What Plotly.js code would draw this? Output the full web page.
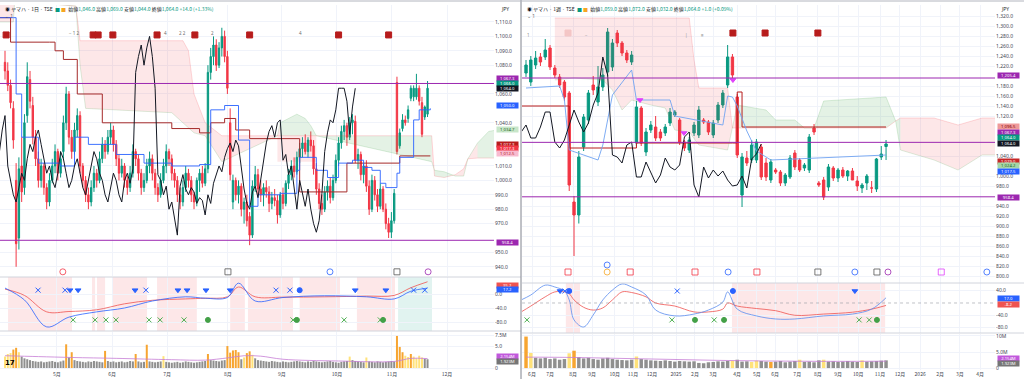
<!DOCTYPE html>
<html><head><meta charset="utf-8">
<script src="https://cdn.plot.ly/plotly-3.0.1.min.js"></script>
<style>html,body{margin:0;padding:0;background:#fff;overflow:hidden}#chart{width:1024px;height:379px}</style>
</head><body><div id="chart"></div>
<script>
// ===================== LEFT : daily (Apr–Nov 2025) =====================
const L_open  = [1082,1076,1066,1050,1000,960,1010,995,1045,1070,1052,1030,1015,1000,1010,995,985,1000,1010,1020,1005,1020,1040,1060,1030,1020,1035,1045,1010,1000,990,985,995,1005,1000,1015,1025,1020,1030,1035,1025,1015,1005,1010,1000,995,1005,1020,1015,1005,995,1000,1010,1015,1005,995,990,1000,1010,1020,1015,1005,1000,990,985,995,1005,1000,990,985,1000,1005,998,1008,1075,1086,1094,1080,1092,1100,1086,1040,985,1000,990,996,980,985,975,962,996,1004,994,990,995,992,984,988,986,976,990,984,998,1004,1010,1006,1016,1022,1026,1020,1028,1024,1008,994,984,980,992,996,988,1000,1014,1026,1034,1038,1030,1040,1041,1014,1018,1004,1010,996,980,1000,990,982,994,980,970,964,972,1068,1024,1036,1042,1043,1057,1058,1058,1064,1054,1044,1046];
const L_high  = [1090,1082,1070,1055,1012,1016,1030,1046,1082,1076,1058,1035,1020,1015,1012,998,1005,1015,1025,1022,1020,1045,1065,1062,1035,1040,1050,1048,1012,1003,995,1000,1010,1008,1020,1030,1028,1035,1040,1038,1028,1018,1015,1012,1003,1010,1025,1022,1018,1008,1005,1015,1020,1018,1008,998,1005,1015,1025,1022,1018,1008,1003,995,1000,1010,1008,1003,992,1002,1008,1010,1012,1080,1092,1100,1098,1096,1106,1104,1090,1050,1004,1002,1000,998,988,990,978,1000,1010,1008,1000,998,1000,996,992,994,990,992,995,1000,1008,1014,1016,1020,1026,1030,1032,1030,1034,1028,1012,998,990,996,1000,1002,1004,1018,1030,1038,1042,1040,1044,1046,1045,1022,1020,1012,1014,1000,1004,1003,994,998,996,984,974,978,994,1072,1036,1046,1045,1052,1066,1066,1074,1066,1058,1052,1069];
const L_low   = [1070,1062,1050,1022,940,952,985,990,1040,1050,1025,1010,995,995,990,980,982,998,1005,1000,1002,1015,1035,1025,1015,1018,1030,1005,995,985,980,982,992,995,998,1012,1015,1018,1025,1020,1010,1000,1002,995,990,992,1002,1010,1000,990,992,998,1005,1000,990,985,988,998,1005,1010,1000,995,985,980,982,992,995,985,980,982,992,995,996,1005,1070,1080,1076,1078,1086,1082,1060,1000,980,986,984,975,970,968,955,960,992,990,985,982,988,978,980,982,970,974,980,982,994,1000,1002,1004,1012,1016,1018,1016,1020,1004,990,980,976,978,986,984,986,998,1010,1022,1028,1024,1028,1032,1012,1008,1000,998,992,976,978,986,978,980,978,966,960,960,970,1018,1022,1034,1038,1040,1055,1055,1056,1052,1030,1042,1044];
const L_close = [1076,1066,1054,1028,956,1008,992,1040,1072,1055,1030,1015,1000,1010,995,985,1000,1010,1020,1005,1015,1040,1060,1030,1020,1035,1045,1010,1000,990,985,995,1005,1000,1015,1025,1020,1030,1035,1025,1015,1005,1010,1000,995,1005,1020,1015,1005,995,1000,1010,1015,1005,995,990,1000,1010,1020,1015,1005,1000,990,985,995,1005,1000,990,985,1000,1005,998,1008,1075,1086,1094,1080,1092,1100,1086,1064,1004,1000,990,996,980,985,972,962,996,1004,994,990,995,992,984,988,986,976,990,984,998,1004,1010,1006,1016,1022,1026,1020,1028,1024,1008,994,984,980,992,996,988,1000,1014,1026,1034,1038,1030,1040,1042,1014,1018,1004,1010,996,980,1000,990,982,994,980,970,964,972,991,1020,1033,1042,1040,1049,1064,1064,1064,1055,1032,1051,1064];
const L_vol   = [2.6,3.2,3.4,4.2,4.6,3.6,2.6,2.2,2.0,1.8,1.6,1.5,1.4,1.5,1.3,1.4,1.5,1.6,1.4,1.3,1.5,1.7,5.4,2.4,3.6,1.8,1.6,1.5,1.4,1.3,1.5,1.4,1.6,1.5,1.4,1.3,3.9,1.6,1.4,1.5,1.3,1.4,1.5,1.3,1.4,1.6,1.5,3.2,1.5,1.3,1.4,5.3,1.5,1.4,1.3,1.4,1.5,2.7,1.4,1.3,1.2,1.3,1.4,1.2,1.3,1.5,1.4,1.3,1.2,1.3,1.4,1.5,1.6,3.2,1.8,1.7,1.6,1.5,1.7,1.8,5.0,3.5,4.0,4.1,3.6,2.0,2.4,3.4,3.8,3.0,2.2,1.8,1.7,1.6,1.5,1.4,1.6,1.5,1.4,1.3,1.5,1.4,1.3,1.4,1.5,1.6,1.5,1.4,1.3,1.5,1.4,1.6,1.5,1.4,1.3,1.4,1.5,1.6,1.4,1.3,1.2,1.4,1.5,1.6,2.6,1.8,1.6,1.5,1.4,1.3,2.4,1.5,1.4,1.3,1.5,1.4,1.3,1.4,1.5,1.6,1.5,7.3,4.8,3.6,2.8,2.5,3.2,2.6,2.2,2.8,2.4,2.1,2.0];
const L_volHi = [1,1,1,2,2,1,0,0,0,0,0,0,0,0,0,0,0,0,0,0,0,0,2,0,2,0,0,0,0,0,0,0,0,0,0,0,2,0,0,0,0,0,0,0,0,0,0,2,0,0,0,2,0,0,0,0,0,1,0,0,0,0,0,0,0,0,0,0,0,0,0,0,0,2,0,0,0,0,0,0,2,2,2,2,2,0,1,2,2,1,0,0,0,0,0,0,0,0,0,0,0,0,0,0,0,0,0,0,0,0,0,0,0,0,0,0,0,0,0,0,0,0,0,0,1,0,0,0,0,0,1,0,0,0,0,0,0,0,0,0,0,2,2,2,1,1,2,1,1,1,1,0,0];
const L_volMA_x = [0,12,24,40,60,72,80,86,92,100,120,140,146,152];
const L_volMA_y = [2.8,2.6,2.4,2.2,1.9,1.8,2.3,2.8,2.7,2.0,1.6,1.5,2.2,2.15];
const L_monthPos = [18.7,38.5,58.3,80.2,99.6,119.4,139.2,159];
const L_monthLbl = ['5月','6月','7月','8月','9月','10月','11月','12月'];
const L_priceTicks = [940,950,970,980,990,1000,1010,1040,1060,1080,1090,1100,1110];
// ichimoku lines (bar index, price)
const L_tenkanX = [-2,3,4,6,12,20,25,30,40,50,60,70,74,79,84,88,91,99,105,106,112,116,120,125,129,132,135,137,141,142,147,149,153];
const L_tenkanY = [1113,1113,1060,1030,1012,1010,1030,1025,1018,1012,1010,1011,1049,1052,1028,982,990,991,1007,1016,1007,1002,1012,1014,1009,1007,998,995,1005,1016,1042,1049,1050];
const L_kijunX = [-2,2,16,18,21,26,35,60,70,74,79,83,88,106,123,142,153];
const L_kijunY = [1113,1096,1096,1090,1084,1060,1040,1036,1033,1040,1043,1035,1029,992,1012,1017,1017];
const L_spanX = [-2,3,3.5,25.5,27,29,60,64,66,68,72,78,98,99,102,105,108,110,112,153.5,154.5,158,162,165,166.5,170,174,176];
const L_spanA = [1110,1110,1125,1121,1080,1050,1047,1040,1036,1033,1031,1013,1031,1040,1043,1046,1043,1038,1031,1013,1007,1006,1003,1003,1015,1026,1034,1034.7];
const L_spanB = [1125,1125,1125,1121,1097,1097,1097,1097,1090,1060,1040,1031,1031,1031,1031,1031,1031,1031,1031,1031,1003,1002,1004,1008,1015,1015.5,1015.5,1015.5];
const L_box = [98,112,1013,1031];
const L_levels = [1067.3,958.4];
const L_oscX = [0,7,15,23,33,43,53,65,72,80,84,90,100,115,130,140,146,152];
const L_oscBlue = [17,-17,-94,-66,-51,-40,-20,-8,-12,-10,31,-20,-10,-5,-8,-14,8,17];
const L_oscRed  = [14,-4,-51,-50,-45,-28,-18,-14,-12,-8,20,-8,-9,-8,-6,-4,18,35];
const L_bandPink = [[1.1,24.1],[31.3,32.4],[33.1,36],[38.8,51.1],[54.7,69],[81,86.3],[87.4,103.6],[106,120.5],[126.6,140.3]];
const L_bandGreen = [[141.4,153.6]];
const L_blueX = [11.9,21.6,50.7,97.5,102.5,147,151];
const L_blueTri = [23.4,26.3,46.8,62.2,65.5,72.3,81,126,137];
const L_blueDot = [106];
const L_greenX = [24.5,32.4,36.3,39.9,51.8,55.8,64.4,103.6,122,135];
const L_greenDot = [73,105,136];
const L_evtX = [0.4,31.7,33.5,38.8,54.7,68.3,88,120,138];
const L_markX = [20.8,80.2,116.9,141,152.2];
const L_markSym = ['circle-open','square-open','circle-open','square-open','circle-open'];
const L_markCol = ['#f23645','#555','#2962ff','#555','#9c27b0'];

// ===================== RIGHT : weekly (Jun 2024 – Nov 2025) =====================
const R_open  = [1206,1188,1222,1238,1238,1256,1216,1198,1188,1166,948,922,1058,1112,1182,1148,1178,1208,1218,1286,1266,1246,1228,1066,1136,1048,1092,1098,1088,1086,1106,1122,1112,1068,1052,1086,1082,1112,1108,1082,1112,1142,1182,1238,1158,962,1036,1032,1032,1058,1026,992,1012,1008,986,998,1046,1032,1016,1012,1096,986,992,978,1016,996,1012,1000,1010,990,976,986,976,974,1038,1059];
const R_high  = [1232,1240,1250,1246,1274,1262,1222,1204,1192,1170,960,1050,1124,1172,1200,1220,1216,1296,1274,1292,1270,1252,1250,1150,1140,1096,1110,1120,1094,1104,1136,1132,1116,1072,1078,1108,1140,1116,1112,1112,1148,1172,1262,1244,1164,1046,1050,1072,1074,1064,1036,1034,1016,1012,1006,1042,1052,1036,1026,1084,1104,990,998,1024,1020,1016,1018,1012,1016,1000,986,1004,990,1036,1060,1072];
const R_low   = [1198,1180,1214,1220,1232,1212,1196,1176,1150,970,840,905,1050,1104,1162,1140,1170,1200,1210,1258,1240,1226,1222,1060,1060,1040,1086,1070,1070,1080,1100,1118,1062,1050,1046,1080,1076,1104,1082,1076,1106,1136,1176,1196,1036,938,1020,1026,1026,992,990,986,1004,980,980,994,1012,1008,1010,1006,1082,978,952,970,990,988,996,990,992,970,966,972,966,968,1032,1032];
const R_close = [1222,1232,1236,1228,1252,1218,1202,1182,1158,982,922,1038,1118,1166,1172,1178,1202,1288,1266,1266,1246,1232,1242,1138,1066,1088,1102,1076,1076,1098,1128,1128,1068,1056,1072,1102,1132,1108,1088,1106,1142,1166,1238,1202,1042,1038,1026,1062,1068,998,998,1028,1008,986,1002,1036,1018,1012,1022,1078,1088,982,958,1018,996,1012,1000,1010,992,980,982,1000,976,1034,1044,1064];
const R_vol   = [9.8,4.7,3.2,3.0,3.2,2.8,3.0,2.6,2.8,4.6,5.4,3.4,3.0,3.2,2.8,2.6,3.0,3.2,2.8,2.6,2.5,2.4,2.6,3.6,2.8,2.6,2.4,2.3,2.2,2.4,2.2,2.0,2.2,2.1,2.0,2.1,1.6,1.5,1.8,1.9,2.1,2.0,2.2,2.3,2.6,2.0,2.1,1.9,2.3,2.2,2.0,1.9,2.0,2.2,1.8,2.0,2.2,2.6,1.9,2.0,1.8,2.4,2.6,2.0,2.1,1.9,2.0,2.2,2.0,1.9,2.4,2.0,2.1,2.2,2.3,2.4];
const R_volHi = [2,1,0,0,0,0,0,0,0,1,2,0,0,0,0,0,0,0,0,0,0,0,0,1,0,0,0,0,0,0,0,0,0,0,0,0,0,0,0,0,0,0,0,1,0,0,0,1,1,0,0,2,0,0,0,0,0,1,0,0,0,0,1,0,0,0,0,0,0,0,1,0,0,0,0,0];
const R_volMA_x = [0,10,20,30,40,50,60,70,75];
const R_volMA_y = [3.4,3.3,3.0,2.7,2.4,2.2,2.1,2.1,2.15];
const R_monthPos = [1.25,5,9.8,13.75,18.5,22.3,26.25,31.25,35.2,39,44,48.1,51.9,56.5,60.8,65,69.2,73.75,77.9,82.1,86.25,90.4,94.6];
const R_monthLbl = ['6月','7月','8月','9月','10月','11月','12月','2025','2月','3月','4月','5月','6月','7月','8月','9月','10月','11月','12月','2026','2月','3月','4月'];
const R_priceTicks = [800,820,840,860,880,900,920,940,980,1000,1040,1120,1140,1160,1180,1220,1240,1260,1280,1300,1320];
const R_tenkanX = [0,7,8,9,15,16,18,22,23,30,31,41,42,43,44,46,48,51,75];
const R_tenkanY = [1176,1180,1152,1052,1032,1062,1162,1212,1152,1152,1120,1102,1160,1158,1140,1090,1050,1032,1042];
const R_kijunX = [-1,8,9,23,43,44,45,60,75];
const R_kijunY = [1140,1140,1056,1066,1066,1168,1098,1098,1098];
const R_spanX = [6,10,16,18,20,22,26,29,31,34,35,36,42,43,44,50,52,56,58,60,62,75,77,78,85,90,95,98];
const R_spanA = [1192,1196,1192,1172,1132,1152,1142,1136,1092,1088,1075,1062,1052,1096,1142,1132,1112,1112,1096,1096,1150,1158,1110,1052,1032,1012,1042,1042];
const R_spanB = [1316,1316,1316,1316,1316,1316,1316,1316,1316,1316,1232,1176,1176,1096,1096,1096,1096,1096,1096,1096,1096,1096,1110,1116,1116,1102,1116,1116];
const R_levels = [1196,1067.3,958.4];
const R_oscX = [-1,1,4,6,8,9,10,12,14,16,18,20,22,25,27,31,35,38,41,42,44,48,52,56,62,68,72,75];
const R_oscBlue = [10,26,58,52,39,10,-55,-78,-39,10,42,62,52,26,-23,-42,-36,-23,3,36,-20,-42,-52,-52,-42,-36,-20,17];
const R_oscRed  = [-29,-10,20,36,36,30,10,-14,-23,-16,10,36,34,20,0,-10,-29,-29,-20,0,-10,-18,-25,-40,-36,-30,-20,-8];
const R_bandPink = [[8.3,11.25],[42.9,74.8]];
const R_blueX = [8.1,31.5];
const R_blueTri = [7.1,68.5];
const R_blueDot = [9,43.1];
const R_greenX = [0.2,30.4,39.2,69.4,71.5];
const R_greenDot = [35.2,41.25,73.1];
const R_triX = [23.75,32.9,43.1];
const R_triY = [1152,1086,1192];
const R_evtX = [43.1,49.8,60.8];
const R_evtFaintX = [8.75];
const R_markX = [8.75,21.7,35.2,48.1,60.8,16.9,16.9,42.1,68.5,73.1,75.4,86.5,96];
const R_markSym = ['square-open','square-open','square-open','square-open','square-open','circle-open','circle-open','circle-open','circle-open','square-open','circle-open','square-open','circle-open'];
const R_markCol = ['#f23645','#f23645','#f23645','#f23645','#555','#2962ff','#f5a623','#2962ff','#2962ff','#555','#9c27b0','#e040fb','#2962ff'];
const R_markY = [808,808,808,808,808,822,808,808,808,808,808,808,808];

// ---------------- drawing ----------------
const UP='#089981', DN='#f23645', GRID='#f0f3fa', TXT='#131722';
const data=[];
const H=379;
const py=p=>1-p/H;
function candles(o,h,l,c,xa,ya){
  data.push({type:'candlestick',x:o.map((_,i)=>i),open:o,high:h,low:l,close:c,xaxis:xa,yaxis:ya,
    increasing:{line:{color:UP,width:1},fillcolor:UP},decreasing:{line:{color:DN,width:1},fillcolor:DN},
    whiskerwidth:0,hoverinfo:'skip',showlegend:false});
}
function cloud(X,A,B,xa,ya){
  let seg=null;const segs=[];
  for(let i=0;i<X.length;i++){
    const up=A[i]>B[i]||(A[i]===B[i]&&seg&&seg.up);
    if(!seg||seg.up!==up){ if(seg){seg.x.push(X[i]);seg.a.push(A[i]);seg.b.push(B[i]);} seg={up:up,x:[],a:[],b:[]};segs.push(seg);}
    seg.x.push(X[i]);seg.a.push(A[i]);seg.b.push(B[i]);
  }
  segs.forEach(s=>{
    const col=s.up?'rgba(67,160,71,0.14)':'rgba(242,54,69,0.12)';
    data.push({type:'scatter',mode:'lines',x:s.x,y:s.b,xaxis:xa,yaxis:ya,line:{color:'rgba(242,54,69,0.3)',width:0.6},hoverinfo:'skip',showlegend:false});
    data.push({type:'scatter',mode:'lines',x:s.x,y:s.a,xaxis:xa,yaxis:ya,fill:'tonexty',fillcolor:col,line:{color:'rgba(67,160,71,0.3)',width:0.6},hoverinfo:'skip',showlegend:false});
  });
}
function line(x,y,xa,ya,color,w,shape){
  data.push({type:'scatter',mode:'lines',x:x,y:y,xaxis:xa,yaxis:ya,line:{color:color,width:w,shape:shape||'linear'},hoverinfo:'skip',showlegend:false});
}
function lagging(c,xa,ya){ line(c.map((_,i)=>i-26),c,xa,ya,'#131722',1); }
function volume(v,hi,xa,ya){
  const cols=hi.map(h=>h===2?'#f7a531':(h===1?'#ffe27a':'#8f8f8f'));
  data.push({type:'bar',x:v.map((_,i)=>i),y:v,xaxis:xa,yaxis:ya,marker:{color:cols,line:{width:0}},width:0.72,hoverinfo:'skip',showlegend:false});
}
function marks(x,yv,xa,ya,sym,col,size,lw){
  data.push({type:'scatter',mode:'markers',x:x,y:x.map((_,i)=>Array.isArray(yv)?yv[i]:yv),xaxis:xa,yaxis:ya,
    marker:{symbol:sym,size:size,color:col,line:{color:col,width:lw||1}},hoverinfo:'skip',showlegend:false});
}

// LEFT
cloud(L_spanX,L_spanA,L_spanB,'x','y');
line(L_kijunX,L_kijunY,'x','y','#a52a2a',1,'hv');
line(L_tenkanX,L_tenkanY,'x','y','#2962ff',0.9,'hv');
lagging(L_close,'x','y');
candles(L_open,L_high,L_low,L_close,'x','y');
volume(L_vol,L_volHi,'x','y3');
line(L_volMA_x,L_volMA_y,'x','y3','#c77dd6',0.8,'spline');
line(L_oscX,L_oscRed,'x','y2','#ef5350',0.8,'spline');
line(L_oscX,L_oscBlue,'x','y2','#2962ff',0.8,'spline');
marks(L_blueX,11,'x','y2','x-thin-open','#2962ff',5,1);
marks(L_blueTri,11,'x','y2','triangle-down','#2962ff',5,0);
marks(L_blueDot,11,'x','y2','circle','#2962ff',5,0);
marks(L_greenX,-74,'x','y2','x-thin-open','#4caf50',5,1);
marks(L_greenDot,-74,'x','y2','circle','#43a047',5,0);
marks(L_evtX,1101,'x','y','square','#b71c1c',6,0);
data.push({type:'scatter',mode:'markers',x:L_markX,y:L_markX.map(()=>936.5),xaxis:'x',yaxis:'y',marker:{symbol:L_markSym,size:6,color:L_markCol,line:{color:L_markCol,width:0.8}},hoverinfo:'skip',showlegend:false});

// RIGHT
cloud(R_spanX,R_spanA,R_spanB,'x2','y4');
line(R_kijunX,R_kijunY,'x2','y4','#b71c1c',1,'hv');
line(R_tenkanX,R_tenkanY,'x2','y4','#6fa3f2',0.9,'linear');
lagging(R_close,'x2','y4');
candles(R_open,R_high,R_low,R_close,'x2','y4');
marks(R_triX,R_triY,'x2','y4','triangle-down','#e040fb',5,0);
volume(R_vol,R_volHi,'x2','y6');
line(R_volMA_x,R_volMA_y,'x2','y6','#c77dd6',0.8,'spline');
line(R_oscX,R_oscRed,'x2','y5','#ef5350',0.8,'spline');
line(R_oscX,R_oscBlue,'x2','y5','#5b8def',0.8,'spline');
marks(R_blueX,39,'x2','y5','x-thin-open','#2962ff',5,1);
marks(R_blueTri,39,'x2','y5','triangle-down','#2962ff',5,0);
marks(R_blueDot,39,'x2','y5','circle','#2962ff',5,0);
marks(R_greenX,-55,'x2','y5','x-thin-open','#4caf50',5,1);
marks(R_greenDot,-55,'x2','y5','circle','#43a047',5,0);
marks(R_evtX,1286,'x2','y4','square','#b71c1c',6,0);
marks(R_evtFaintX,1286,'x2','y4','square','#f4c6c6',6,0);
data.push({type:'scatter',mode:'markers',x:R_markX,y:R_markY,xaxis:'x2',yaxis:'y4',marker:{symbol:R_markSym,size:6,color:R_markCol,line:{color:R_markCol,width:0.8}},hoverinfo:'skip',showlegend:false});

const shapes=[];
function hline(xref,yref,y,color,w,dash){shapes.push({type:'line',xref:xref+' domain',yref:yref,x0:0,x1:1,y0:y,y1:y,line:{color:color,width:w,dash:dash||'solid'},layer:'above'});}
L_levels.forEach(v=>hline('x','y',v,'#9c27b0',1));
R_levels.forEach(v=>hline('x2','y4',v,'#9c27b0',1));
shapes.push({type:'line',xref:'x2 domain',yref:'y5',x0:0,x1:1,y0:0,y1:0,line:{color:'#9598a1',width:0.6,dash:'dot'}});
shapes.push({type:'rect',xref:'x',yref:'y',x0:L_box[0],x1:L_box[1],y0:L_box[2],y1:L_box[3],fillcolor:'rgba(242,54,69,0.12)',line:{width:0},layer:'below'});
function bands(list,xa,ya,col){list.forEach(b=>shapes.push({type:'rect',xref:xa,yref:ya+' domain',x0:b[0],x1:b[1],y0:0,y1:1,fillcolor:col,line:{width:0},layer:'below'}));}
bands(L_bandPink,'x','y2','rgba(242,54,69,0.12)');
bands(L_bandGreen,'x','y2','rgba(8,153,129,0.12)');
bands(R_bandPink,'x2','y5','rgba(242,54,69,0.12)');
[[0,0.5088,277],[0,0.5088,331],[0.5098,1,283],[0.5098,1,333]].forEach(s=>shapes.push({type:'line',xref:'paper',yref:'paper',x0:s[0],x1:s[1],y0:py(s[2]),y1:py(s[2]),line:{color:'#d1d4dc',width:1}}));
shapes.push({type:'line',xref:'paper',yref:'paper',x0:0.5088,x1:0.5088,y0:0,y1:1,line:{color:'#9598a1',width:1.2}});
shapes.push({type:'line',xref:'paper',yref:'paper',x0:0,x1:1,y0:py(1),y1:py(1),line:{color:'#b2b5be',width:1}});

const tf={size:5,color:'#434651',family:'Noto Sans, sans-serif'};
const tfx={size:5,color:'#434651',family:'Noto Sans CJK JP, sans-serif'};
const gridV={showgrid:true,gridcolor:GRID,gridwidth:1,zeroline:false,showline:false,ticks:''};
const layout={
  width:1024,height:379,margin:{l:0,r:0,t:0,b:0},paper_bgcolor:'#fff',plot_bgcolor:'#fff',
  showlegend:false,bargap:0.3,dragmode:false,
  xaxis:Object.assign({domain:[0,0.4824],range:[-1.8,175.9],anchor:'y3',tickvals:L_monthPos,ticktext:L_monthLbl,tickfont:tfx,rangeslider:{visible:false}},gridV),
  yaxis:Object.assign({domain:[py(276),py(5)],range:[933.6,1121.8],side:'right',anchor:'x',tickvals:L_priceTicks,tickformat:',.1f',tickfont:tf},gridV),
  yaxis2:Object.assign({domain:[py(331),py(277)],range:[-105.7,48.6],side:'right',anchor:'x',tickvals:[-80,-40,0],ticktext:['-80.0','-40.0','0.0'],tickfont:tf},gridV),
  yaxis3:Object.assign({domain:[py(370),py(332)],range:[-0.45,8.2],side:'right',anchor:'x',tickvals:[0,5,7.5],ticktext:['0','5.0','7.5M'],tickfont:tf},gridV),
  xaxis2:Object.assign({domain:[0.5098,0.9717],range:[-0.83,97.7],anchor:'y6',tickvals:R_monthPos,ticktext:R_monthLbl,tickfont:tfx,rangeslider:{visible:false}},gridV),
  yaxis4:Object.assign({domain:[py(283),py(5)],range:[786,1342],side:'right',anchor:'x2',tickvals:R_priceTicks,tickformat:',.1f',tickfont:tf},gridV),
  yaxis5:Object.assign({domain:[py(333),py(283)],range:[-97.6,65],side:'right',anchor:'x2',tickvals:[-80,-40,40],ticktext:['-80.0','-40.0','40.0'],tickfont:tf},gridV),
  yaxis6:Object.assign({domain:[py(370),py(334)],range:[-0.6,10.6],side:'right',anchor:'x2',tickvals:[0,5,10],ticktext:['0','5.0M','10M'],tickfont:tf},gridV),
  shapes:shapes,annotations:[]
};
const ann=layout.annotations;
function tag(xp,ypix,text,bg,fg){ann.push({xref:'paper',yref:'paper',x:xp,y:py(ypix),xanchor:'left',yanchor:'middle',text:text,showarrow:false,bgcolor:bg,width:21,height:4.6,align:'center',valign:'middle',font:{size:4.2,color:fg||'#fff',family:'Noto Sans, sans-serif'},borderpad:0});}
const LX=0.4845, RX=0.9735;
tag(LX,78,'1,067.3','#9c27b0');tag(LX,83.5,'1,066.0','#089981');tag(LX,89,'1,064.0','#131722');
tag(LX,106,'1,050.0','#2962ff');tag(LX,130,'1,034.7','#c8e6c9','#1b5e20');
tag(LX,144,'1,017.3','#b71c1c');tag(LX,148.5,'1,017.3','#f23645');tag(LX,153,'1,012.5','#f8bbd0','#b71c1c');tag(LX,242,'958.4','#9c27b0');
tag(LX,285,'35.2','#ef5350');tag(LX,289.5,'17.2','#2962ff');
tag(LX,356,'2.154M','#c158dc');tag(LX,361,'1.923M','#757575');
tag(RX,76,'1,205.4','#9c27b0');tag(RX,127,'1,096.5','#ef9a9a','#7f0000');tag(RX,132,'1,067.3','#9c27b0');
tag(RX,137.5,'1,064.0','#089981');tag(RX,143,'1,064.0','#131722');
tag(RX,161,'1,029.0','#c62828');tag(RX,166,'1,024.2','#a5d6a7','#1b5e20');tag(RX,171,'1,017.5','#2962ff');tag(RX,197,'958.4','#9c27b0');
tag(RX,298,'17.0','#2962ff');tag(RX,304,'-8.2','#ef5350');
tag(RX,358,'2.154M','#c158dc');tag(RX,363.5,'1.923M','#757575');
const hf={size:5,color:TXT,family:'Noto Sans CJK JP, sans-serif'};
ann.push({xref:'paper',yref:'paper',x:0.003,y:py(3),xanchor:'left',yanchor:'top',showarrow:false,font:hf,
  text:'◉ ヤマハ · 1日 · TSE  <span style="color:#089981">■</span> <span style="color:#f5a623">■</span>  始値<span style="color:#089981">1,046.0</span> 高値<span style="color:#089981">1,069.0</span> 安値<span style="color:#089981">1,044.0</span> 終値<span style="color:#089981">1,064.0 +14.0 (+1.33%)</span>'});
ann.push({xref:'paper',yref:'paper',x:0.5125,y:py(3),xanchor:'left',yanchor:'top',showarrow:false,font:hf,
  text:'◉ ヤマハ · 1週 · TSE  <span style="color:#089981">■</span> <span style="color:#f5a623">■</span>  始値<span style="color:#089981">1,059.0</span> 高値<span style="color:#089981">1,072.0</span> 安値<span style="color:#089981">1,032.0</span> 終値<span style="color:#089981">1,064.0 +1.0 (+0.09%)</span>'});
ann.push({xref:'paper',yref:'paper',x:0.003,y:py(11),xanchor:'left',yanchor:'top',showarrow:false,font:{size:5,color:'#555'},text:'⌄ 1'});
ann.push({xref:'paper',yref:'paper',x:0.5125,y:py(11),xanchor:'left',yanchor:'top',showarrow:false,font:{size:5,color:'#555'},text:'⌄ 1'});
ann.push({xref:'paper',yref:'paper',x:0.487,y:py(4),xanchor:'left',yanchor:'top',showarrow:false,font:{size:5,color:TXT},text:'JPY'});
ann.push({xref:'paper',yref:'paper',x:0.976,y:py(4),xanchor:'left',yanchor:'top',showarrow:false,font:{size:5,color:TXT},text:'JPY'});
ann.push({xref:'paper',yref:'paper',x:0.003,y:py(363),xanchor:'left',yanchor:'middle',showarrow:false,font:{size:7,color:'#000',family:'DejaVu Sans'},text:'<b>17</b>'});
[[74,'− 1 2'],[165,'4'],[182,'2 2'],[212,'2'],[300,'4']].forEach(t=>ann.push({xref:'paper',yref:'paper',x:t[0]/1024,y:py(33),xanchor:'center',yanchor:'middle',showarrow:false,font:{size:4.5,color:'#666'},text:t[1]}));
[[528,'1'],[586,'−'],[686,'|'],[702,'≡']].forEach(t=>ann.push({xref:'paper',yref:'paper',x:t[0]/1024,y:py(35),xanchor:'center',yanchor:'middle',showarrow:false,font:{size:4.5,color:'#888'},text:t[1]}));

Plotly.newPlot('chart',data,layout,{staticPlot:true});
</script></body></html>
